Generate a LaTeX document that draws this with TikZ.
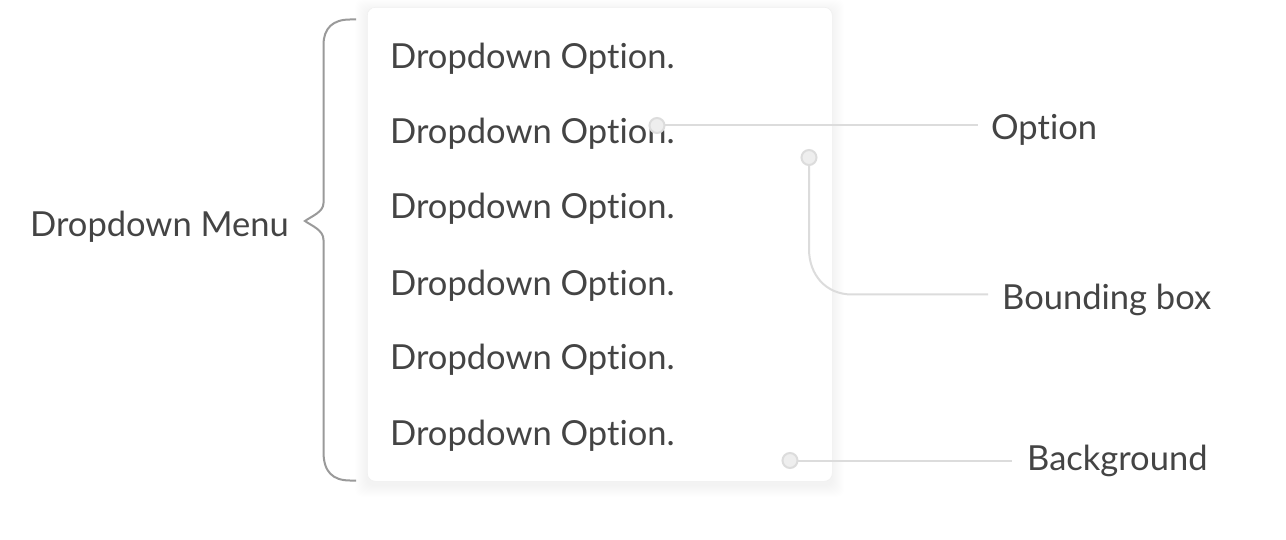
\documentclass[tikz,border=0pt]{standalone}
\usepackage{fontspec}
\setmainfont{Lato}[Ligatures={NoCommon}]
\begin{document}
\begin{tikzpicture}[x=1pt,y=-1pt,
  txt/.style={text=textgray, inner sep=0pt, anchor=base west, font=\fontsize{34.5}{41}\selectfont},
  conn/.style={draw=linegray, line width=2pt},
  dot/.style={circle, fill=dotfill, draw=linegray, line width=2pt, minimum size=15pt, inner sep=0pt},
  bracepath/.style={draw=bracegray, line width=2pt}
]
\definecolor{textgray}{HTML}{444444}
\definecolor{linegray}{HTML}{DCDCDC}
\definecolor{dotfill}{HTML}{EEEEEE}
\definecolor{bracegray}{HTML}{9A9A9A}
\useasboundingbox (0,0) rectangle (1286,540);
\fill[white] (0,0) rectangle (1286,540);
% shadow
\foreach \i in {1,...,12}{
  \fill[black, opacity=0.0045, rounded corners=8pt] (367-\i,7-\i+4) rectangle (832+\i,481+\i+4);
}
\node[draw=black!6, line width=0.6pt, fill=white, rounded corners=8pt, inner sep=0pt,
  minimum width=465pt, minimum height=474pt, anchor=north west] (card) at (367,7) {};
% options
\foreach \k/\y in {1/69,2/144,3/219,4/295,5/369,6/445}{
  \node[txt] (opt\k) at (390,\y) {Dropdown Option.};
}
% left label and brace
\node[txt] (menu) at (30,237) {Dropdown Menu};
\coordinate (bt) at (356,19.5);
\coordinate (bb) at (356,480.5);
\draw[bracepath] (bt) -- (350,19.5) .. controls (333,19.5) and (323.5,28) .. (323.5,45)
  -- (323.5,203) .. controls (323.5,212) and (312,216) .. (305,221)
  .. controls (312,226) and (323.5,230) .. (323.5,240)
  -- (323.5,452) .. controls (323.5,472) and (333,480.5) .. (350,480.5) -- (bb);
% right labels
\node[txt] (lopt) at (991,140) {Option};
\node[txt] (lbb) at (1002,309) {Bounding box};
\node[txt] (lbg) at (1027,470) {Background};
% dots
\coordinate (d1c) at (657,125.5);
\coordinate (d2c) at (809,157.5);
\coordinate (d3c) at (790,460.5);
\coordinate (e1) at (978,125.5);
\coordinate (e2) at (988,294.5);
\coordinate (e3) at (1012,460.5);
\draw[conn] (d1c) -- (e1);
\draw[conn] (d2c) -- (809,249) .. controls (809,275) and (826,294.5) .. (852,294.5) -- (e2);
\draw[conn] (d3c) -- (e3);
\node[dot] (d1) at (d1c) {};
\node[dot] (d2) at (d2c) {};
\node[dot] (d3) at (d3c) {};
\end{tikzpicture}
\end{document}
